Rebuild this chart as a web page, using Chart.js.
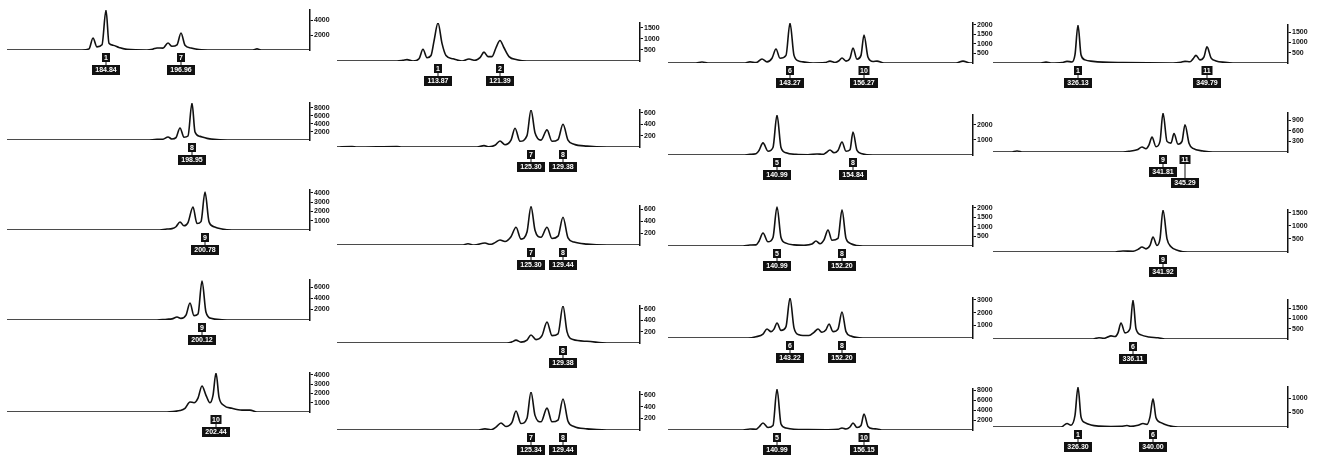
<!DOCTYPE html>
<html>
<head>
<meta charset="utf-8">
<script src="https://cdn.jsdelivr.net/npm/chart.js@4/dist/chart.umd.min.js"></script>
<style>
    html, body { margin: 0; padding: 0; background: #fff; }
    #wrap { position: relative; width: 1317px; height: 459px; overflow: hidden; }
    #wrap canvas { position: absolute; }
</style>
</head>
<body>
<div id="wrap"></div>
<script>
// traces: [scan position, RFU], column by column, top to bottom
const traces = [
    // column 1
    [[0,0],[75,0],[82,150],[86,1620],[90,420],[95,700],[99,5400],[102,900],[106,650],[112,350],[120,80],[140,0],[146,120],[150,270],[156,250],[161,950],[165,500],[170,700],[174,2300],[178,650],[184,280],[192,60],[205,0],[246,0],[250,150],[254,0],[303,0]],
    [[0,0],[140,0],[150,150],[156,200],[161,750],[165,250],[169,600],[173,3000],[177,700],[181,1000],[185,9200],[188,2000],[193,900],[200,400],[210,100],[225,0],[303,0]],
    [[0,0],[150,0],[160,100],[165,150],[169,350],[173,860],[177,450],[181,800],[186,2470],[190,700],[194,900],[198,4080],[202,900],[207,350],[215,100],[225,0],[303,0]],
    [[0,0],[150,0],[160,150],[165,200],[170,550],[174,300],[179,900],[183,3100],[187,800],[191,1100],[195,7100],[199,1400],[204,300],[215,50],[225,0],[303,0]],
    [[0,0],[160,0],[168,80],[173,150],[178,400],[183,1080],[187,1000],[191,1500],[195,2800],[199,1800],[203,1000],[206,1800],[209,4200],[212,1600],[217,700],[225,400],[235,200],[243,200],[250,0],[303,0]],
    // column 2
    [[0,0],[60,0],[66,30],[70,60],[76,0],[82,100],[86,530],[90,150],[94,250],[97,900],[101,1720],[105,800],[109,250],[116,100],[125,0],[132,90],[138,30],[143,150],[147,400],[151,200],[155,200],[159,600],[163,930],[167,600],[172,200],[180,60],[190,0],[303,0]],
    [[0,0],[15,10],[20,0],[60,10],[65,0],[140,0],[147,25],[152,5],[158,30],[163,105],[168,40],[174,120],[178,330],[183,100],[190,200],[194,650],[198,250],[204,120],[210,300],[215,100],[221,130],[226,400],[231,120],[237,50],[250,15],[270,0],[303,0]],
    [[0,0],[125,0],[131,20],[137,0],[148,35],[153,10],[158,40],[163,85],[168,60],[174,140],[179,300],[184,100],[190,220],[194,650],[198,250],[204,130],[210,300],[215,110],[221,150],[226,470],[231,120],[237,50],[250,15],[270,0],[303,0]],
    [[0,0],[170,0],[175,20],[179,50],[184,15],[190,50],[194,140],[199,60],[205,130],[210,370],[215,130],[221,160],[226,650],[230,200],[236,60],[250,30],[270,0],[303,0]],
    [[0,0],[140,0],[148,20],[154,5],[159,50],[164,120],[169,60],[175,130],[179,325],[184,110],[190,200],[194,650],[198,250],[204,140],[210,375],[215,140],[221,170],[226,530],[231,150],[237,60],[250,20],[270,0],[303,0]],
    // column 3
    [[0,0],[28,0],[34,50],[40,0],[76,0],[82,60],[88,20],[94,210],[99,60],[104,250],[108,735],[112,250],[118,400],[122,2100],[126,400],[131,100],[135,60],[145,0],[157,20],[162,100],[167,30],[171,120],[174,260],[178,100],[182,250],[185,790],[189,200],[193,400],[196,1470],[200,300],[205,80],[209,100],[216,0],[288,0],[295,100],[302,0],[305,0]],
    [[0,0],[75,0],[82,40],[88,80],[91,300],[95,800],[100,250],[105,500],[109,2650],[113,500],[118,150],[128,40],[140,20],[149,70],[155,40],[158,150],[162,330],[166,150],[170,300],[174,860],[178,250],[182,350],[185,1520],[189,300],[194,80],[205,0],[305,0]],
    [[0,0],[75,0],[82,50],[88,60],[91,250],[95,680],[100,220],[105,450],[109,2050],[113,450],[118,150],[126,60],[136,40],[144,100],[148,260],[152,120],[156,320],[160,840],[164,300],[170,400],[174,1900],[178,400],[183,120],[195,0],[305,0]],
    [[0,0],[80,0],[88,100],[95,300],[99,710],[103,500],[106,700],[109,1180],[113,600],[118,900],[122,3150],[126,800],[131,250],[135,200],[141,200],[146,450],[150,710],[154,450],[158,650],[161,1100],[165,500],[170,700],[174,2050],[178,500],[183,150],[195,0],[305,0]],
    [[0,0],[75,0],[82,200],[88,150],[91,600],[95,1400],[100,500],[105,900],[109,8200],[113,1200],[118,400],[126,150],[140,80],[160,60],[170,150],[174,400],[178,200],[182,600],[185,1400],[189,500],[193,900],[196,3200],[200,700],[205,250],[209,200],[215,0],[305,0]],
    // column 4
    [[0,0],[48,0],[53,40],[58,0],[69,20],[74,80],[79,50],[82,400],[85,1840],[88,400],[92,150],[100,80],[110,40],[130,20],[180,0],[188,40],[192,80],[197,60],[200,200],[203,370],[207,150],[211,300],[214,780],[218,250],[223,100],[232,30],[240,0],[295,0]],
    [[0,0],[18,0],[24,30],[30,0],[130,0],[138,30],[144,60],[149,140],[153,90],[156,200],[159,420],[163,150],[167,300],[170,1100],[174,300],[178,250],[181,520],[185,220],[189,300],[192,770],[196,250],[200,100],[210,30],[220,0],[295,0]],
    [[0,0],[120,0],[130,40],[140,30],[145,100],[149,190],[153,120],[157,250],[160,570],[164,250],[167,500],[170,1600],[174,500],[178,200],[185,60],[195,0],[295,0]],
    [[0,0],[100,0],[106,60],[111,30],[114,80],[118,150],[122,120],[125,300],[128,780],[132,300],[137,500],[140,1900],[143,500],[148,200],[156,100],[165,60],[172,0],[295,0]],
    [[0,0],[68,0],[74,120],[78,60],[82,400],[85,1380],[88,350],[92,150],[98,70],[106,30],[118,15],[128,20],[134,50],[138,20],[145,60],[150,120],[154,90],[157,350],[160,970],[163,320],[168,150],[175,50],[185,0],[295,0]]
];

const yMax = [5400, 9200, 4300, 7300, 4200, 1720, 650, 660, 650, 650, 2100, 2650, 2100, 3150, 8200, 1840, 1100, 1600, 1900, 1380];

const yTicks = [
    [2000, 4000], [2000, 4000, 6000, 8000], [1000, 2000, 3000, 4000], [2000, 4000, 6000], [1000, 2000, 3000, 4000],
    [500, 1000, 1500], [200, 400, 600], [200, 400, 600], [200, 400, 600], [200, 400, 600],
    [500, 1000, 1500, 2000], [1000, 2000], [500, 1000, 1500, 2000], [1000, 2000, 3000], [2000, 4000, 6000, 8000],
    [500, 1000, 1500], [300, 600, 900], [500, 1000, 1500], [500, 1000, 1500], [500, 1000]
];

// [position, allele, size, dropped below]
const peakLabels = [
    [[99, '1', '184.84'], [174, '7', '196.96']],
    [[185, '8', '198.95']],
    [[198, '9', '200.78']],
    [[195, '9', '200.12']],
    [[209, '10', '202.44']],
    [[101, '1', '113.87'], [163, '2', '121.39']],
    [[194, '7', '125.30'], [226, '8', '129.38']],
    [[194, '7', '125.30'], [226, '8', '129.44']],
    [[226, '8', '129.38']],
    [[194, '7', '125.34'], [226, '8', '129.44']],
    [[122, '6', '143.27'], [196, '10', '156.27']],
    [[109, '5', '140.99'], [185, '8', '154.84']],
    [[109, '5', '140.99'], [174, '8', '152.20']],
    [[122, '6', '143.22'], [174, '8', '152.20']],
    [[109, '5', '140.99'], [196, '10', '156.15']],
    [[85, '1', '326.13'], [214, '11', '349.79']],
    [[170, '9', '341.81'], [192, '11', '345.29', true]],
    [[170, '9', '341.92']],
    [[140, '6', '336.11']],
    [[85, '1', '326.30'], [160, '6', '340.00']]
];

// panel placement in the figure
const colLeft = [7, 337, 668, 993];
const colAxis = [310, 640, 973, 1288];
const baseY = [[50, 140, 230, 320, 412], [61, 147, 245, 343, 430], [63, 155, 246, 338, 430], [63, 152, 252, 339, 427]];
const topY = [[10, 103, 190, 280, 373], [23, 110, 206, 306, 392], [23, 115, 206, 298, 389], [25, 113, 210, 300, 387]];

const AXIS_W = 30, PAD_TOP = 6, PAD_BOT = 40;
const INK = '#111';

const labelPlugin = {
    id: 'peakLabels',
    afterDatasetsDraw(chart, args, opts) {
        const ctx = chart.ctx;
        const xs = chart.scales.x;
        const bottom = chart.chartArea.bottom;
        ctx.save();
        ctx.font = 'bold 7px "Liberation Sans", Arial, sans-serif';
        ctx.textAlign = 'center';
        ctx.textBaseline = 'middle';
        opts.items.forEach(([pos, allele, size, drop]) => {
            const px = Math.round(xs.getPixelForValue(pos));
            const aw = allele.length > 1 ? 11 : 8;
            const ay = bottom + 3;
            const sy = bottom + (drop ? 26 : 15);
            ctx.fillStyle = INK;
            ctx.fillRect(px - aw / 2, ay, aw, 9);
            ctx.fillRect(px - 0.5, ay + 9, 1, sy - ay - 9);
            ctx.fillRect(px - 14, sy, 28, 10);
            ctx.fillStyle = '#fff';
            ctx.fillText(allele, px, ay + 5);
            ctx.fillText(size, px, sy + 5.5);
        });
        ctx.restore();
    }
};

const wrap = document.getElementById('wrap');

for (let c = 0; c < 4; c++) {
    for (let r = 0; r < 5; r++) {
        const i = c * 5 + r;
        const canvas = document.createElement('canvas');
        const w = colAxis[c] - colLeft[c] + AXIS_W;
        const top = topY[c][r] - PAD_TOP;
        const h = baseY[c][r] + PAD_BOT - top;
        canvas.width = w;
        canvas.height = h;
        canvas.style.left = colLeft[c] + 'px';
        canvas.style.top = top + 'px';
        canvas.style.width = w + 'px';
        canvas.style.height = h + 'px';
        wrap.appendChild(canvas);

        const ticks = yTicks[i];
        new Chart(canvas, {
            type: 'line',
            data: {
                datasets: [{
                    data: traces[i],
                    borderColor: INK,
                    borderWidth: 1.6,
                    pointRadius: 0,
                    cubicInterpolationMode: 'monotone',
                    fill: false
                }]
            },
            options: {
                responsive: false,
                animation: false,
                events: [],
                layout: { padding: { top: PAD_TOP, bottom: PAD_BOT, left: 0, right: 0 } },
                scales: {
                    x: {
                        type: 'linear',
                        display: false,
                        min: 0,
                        max: colAxis[c] - colLeft[c]
                    },
                    y: {
                        position: 'right',
                        min: 0,
                        max: yMax[i],
                        afterBuildTicks: s => { s.ticks = ticks.map(v => ({ value: v })); },
                        afterFit: s => { s.width = AXIS_W; },
                        border: { display: true, color: INK, width: 1.5 },
                        grid: { drawOnChartArea: false, drawTicks: true, tickLength: 3, color: INK, lineWidth: 1 },
                        ticks: {
                            color: INK,
                            padding: 1,
                            callback: v => String(v),
                            font: { family: '"Liberation Sans", Arial, sans-serif', size: 7, weight: 'bold' }
                        }
                    }
                },
                plugins: {
                    legend: { display: false },
                    tooltip: { enabled: false },
                    peakLabels: { items: peakLabels[i] }
                }
            },
            plugins: [labelPlugin]
        });
    }
}
</script>
</body>
</html>
